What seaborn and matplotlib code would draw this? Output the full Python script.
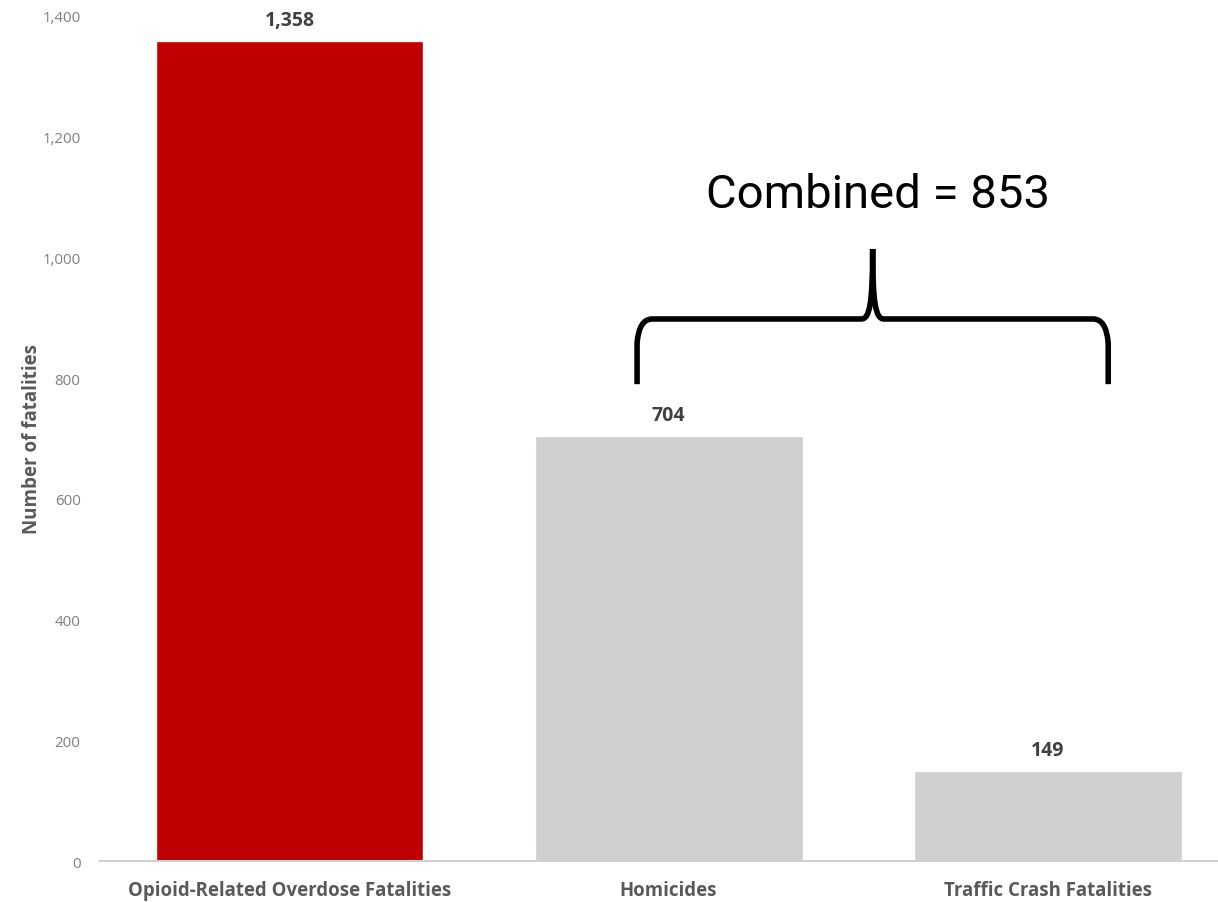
import matplotlib.pyplot as plt
import matplotlib.patches as mpatches
from matplotlib.path import Path
import seaborn as sns
import pandas as pd

categories = ['Opioid-Related Overdose Fatalities', 'Homicides', 'Traffic Crash Fatalities']
fatalities = [1358, 704, 149]
bar_colors = ['#C00000', '#D0CECF', '#D0CECF']

df = pd.DataFrame({'category': categories, 'value': fatalities})

sns.set_style('white')
plt.rcParams['font.family'] = ['Open Sans', 'DejaVu Sans']

fig = plt.figure(figsize=(12.18, 9.03), dpi=100)
ax = fig.add_axes([0.0821, 0.0454, 0.918, 0.9358])

sns.barplot(data=df, x='category', y='value', hue='category', palette=bar_colors,
            width=0.707, legend=False, ax=ax, saturation=1)

ax.set_ylim(0, 1400)
ax.set_xlim(-0.5, 2.45)
ax.set_yticks(range(0, 1401, 200))
ax.set_yticklabels([f'{v:,}' for v in range(0, 1401, 200)], color='#7f7f7f', fontsize=10.8)
ax.tick_params(axis='y', length=0, pad=14)
ax.tick_params(axis='x', length=0, pad=14)
for lbl in ax.get_xticklabels():
    lbl.set_fontweight('bold')
    lbl.set_fontsize(13.4)
    lbl.set_color('#595959')

for s in ['top', 'right', 'left']:
    ax.spines[s].set_visible(False)
ax.spines['bottom'].set_color('#d0d0d0')
ax.spines['bottom'].set_linewidth(1.5)

ax.set_xlabel('')
ax.set_ylabel('Number of fatalities', fontsize=13.5, fontweight='bold', color='#595959', labelpad=0)

for i, v in enumerate(fatalities):
    ax.text(i, v + 18, f'{v:,}', ha='center', va='bottom', fontsize=14,
            fontweight='bold', color='#404040')

# curly brace over the two grey bars
x0, x1 = 0.917, 2.16
xm = (x0 + x1) / 2
yb, yh, yt = 790, 898, 1014
r = 0.04
verts = [
    (x0, yb), (x0, yh - 40), (x0 + 0.005, yh), (x0 + r, yh),
    (xm - 0.03, yh), (xm - 0.008, yh), (xm, yh + 25), (xm, yt),
    (xm, yh + 25), (xm + 0.008, yh), (xm + 0.03, yh),
    (x1 - r, yh), (x1 - 0.005, yh), (x1, yh - 40), (x1, yb),
]
codes = [
    Path.MOVETO, Path.LINETO, Path.CURVE3, Path.CURVE3,
    Path.LINETO, Path.CURVE4, Path.CURVE4, Path.CURVE4,
    Path.CURVE4, Path.CURVE4, Path.CURVE4,
    Path.LINETO, Path.CURVE3, Path.CURVE3, Path.LINETO,
]
brace = mpatches.PathPatch(Path(verts, codes), facecolor='none', edgecolor='black',
                           linewidth=4, capstyle='butt', joinstyle='miter')
ax.add_patch(brace)

ax.text(xm + 0.015, 1105, f'Combined = {fatalities[1] + fatalities[2]:,}', ha='center', va='center',
        fontsize=34, family='Roboto', color='black')

plt.savefig('out.png', dpi=100)
